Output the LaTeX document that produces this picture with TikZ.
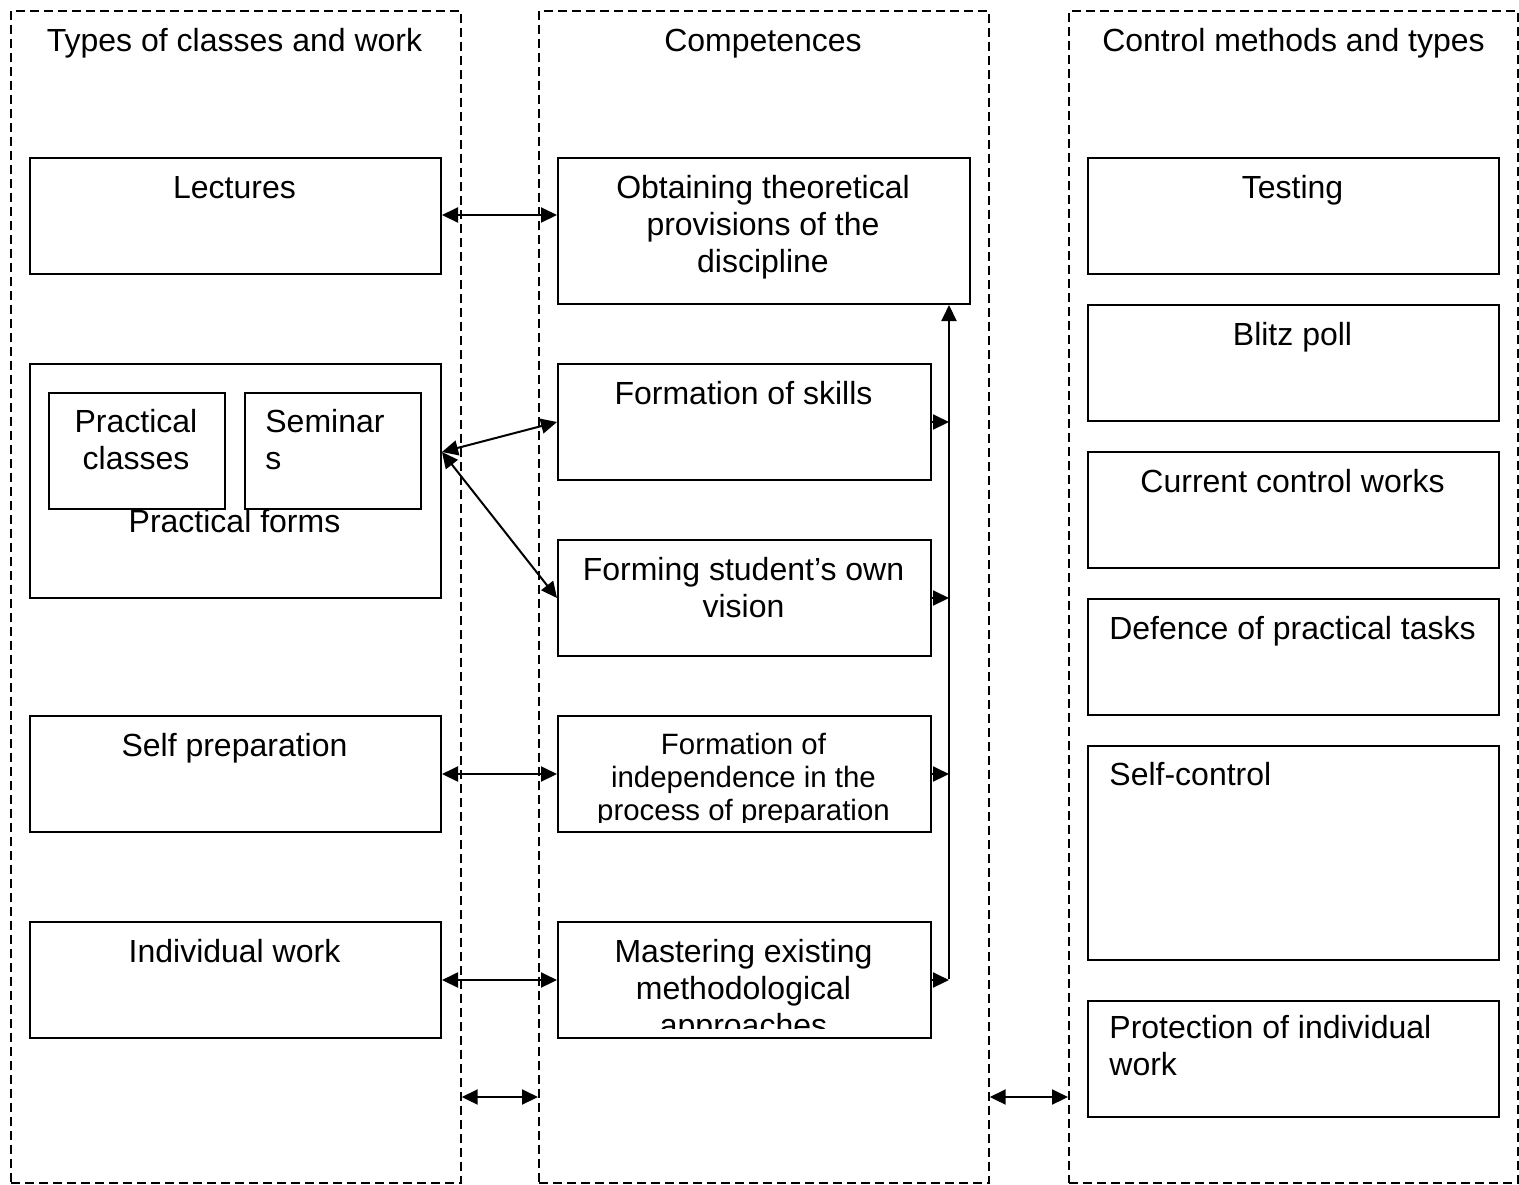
\documentclass[tikz,border=0pt]{standalone}
\usepackage{fontspec}
\setmainfont{Liberation Sans}
\usepackage{tikz}
\usetikzlibrary{arrows.meta, positioning, calc}

\tikzset{
  column/.style={draw, line width=0.85pt, dash pattern=on 4.5pt off 2.5pt, anchor=north west, inner sep=0pt},
  box/.style={draw, line width=1pt, anchor=north west, inner sep=0pt},
  sz/.style 2 args={minimum width=#1*0.5pt, minimum height=#2*0.5pt},
  txt/.style={anchor=base, inner sep=0pt, align=center, font=\fontsize{16}{18.5}\selectfont},
  ltxt/.style={txt, anchor=base west, align=left},
  stxt/.style={txt, font=\fontsize{14.7}{16.5}\selectfont},
  link/.style={line width=1pt, {Triangle[length=8pt, width=7.5pt]}-{Triangle[length=8pt, width=7.5pt]}},
  feed/.style={line width=1pt, -{Triangle[length=8pt, width=7.5pt]}},
}

\begin{document}
\begin{tikzpicture}[x=0.5pt, y=-0.5pt]
  \useasboundingbox (0,0) rectangle (1519,1184);

  % Three dashed columns
  \node[column, sz={450}{1172}] (colA) at (10,10) {};
  \node[column, sz={450}{1172}] (colB) at (538,10) {};
  \node[column, sz={449}{1172}] (colC) at (1068,10) {};
  \node[txt] (headA) at (234.5,51) {Types of classes and work};
  \node[txt] (headB) at (763,51) {Competences};
  \node[txt] (headC) at (1293.5,51) {Control methods and types};

  % Types of classes and work (base = last line)
  \node[box, sz={411}{116}] (lect) at (29,157) {};
  \node[txt] (lectt) at (234.5,198) {Lectures};
  \node[box, sz={411}{234}] (pract) at (29,363) {};
  \node[box, sz={176}{116}] (pcls) at (48,392) {};
  \node[box, sz={176}{116}] (sem) at (244,392) {};
  \node[txt] (pclst) at (136,469) {Practical\\classes};
  \node[ltxt] (semt) at (265,469) {Seminar\\s};
  \node[txt] (practt) at (234.5,532) {Practical forms};
  \node[box, sz={411}{116}] (selfp) at (29,715) {};
  \node[txt] (selfpt) at (234.5,756) {Self preparation};
  \node[box, sz={411}{116}] (indiv) at (29,921) {};
  \node[txt] (indivt) at (234.5,962) {Individual work};

  % Competences
  \node[box, sz={412}{146}] (theor) at (557,157) {};
  \node[txt] (theort) at (763,272) {Obtaining theoretical\\provisions of the\\discipline};
  \node[box, sz={373}{116}] (skills) at (557,363) {};
  \node[txt] (skillst) at (743.5,404) {Formation of skills};
  \node[box, sz={373}{116}] (vision) at (557,539) {};
  \node[txt] (visiont) at (743.5,617) {Forming student’s own\\vision};
  \node[box, sz={373}{116}] (indep) at (557,715) {};
  \begin{scope}
    \clip (indep.north west) rectangle ($(indep.south east)+(0,-11)$);
    \node[stxt] (indept) at (743.5,820) {Formation of\\independence in the\\process of preparation};
  \end{scope}
  \node[box, sz={373}{116}] (master) at (557,921) {};
  \begin{scope}
    \clip (master.north west) rectangle ($(master.south east)+(0,-11)$);
    \node[txt] (mastert) at (743.5,1036) {Mastering existing\\methodological\\approaches};
  \end{scope}

  % Control methods and types
  \node[box, sz={411}{116}] (test) at (1087,157) {};
  \node[txt] (testt) at (1292.5,198) {Testing};
  \node[box, sz={411}{116}] (blitz) at (1087,304) {};
  \node[txt] (blitzt) at (1292.5,345) {Blitz poll};
  \node[box, sz={411}{116}] (curr) at (1087,451) {};
  \node[txt] (currt) at (1292.5,492) {Current control works};
  \node[box, sz={411}{116}] (defn) at (1087,598) {};
  \node[txt] (defnt) at (1292.5,639) {Defence of practical tasks};
  \node[box, sz={411}{214}] (selfc) at (1087,745) {};
  \node[ltxt] (selfct) at (1109,785) {Self-control};
  \node[box, sz={411}{116}] (prot) at (1087,1000) {};
  \node[ltxt] (prott) at (1109,1075) {Protection of individual\\work};

  % Links between columns
  \coordinate (pj) at (pract.east |- 0,452);
  \draw[link] (lect.east |- 0,215) -- (theor.west |- 0,215);
  \draw[link] (pj) -- (skills.west);
  \draw[link] (pj) -- (vision.west);
  \draw[link] (selfp.east) -- (indep.west);
  \draw[link] (indiv.east) -- (master.west);
  \draw[link] (colA.east |- 0,1097) -- (colB.west |- 0,1097);
  \draw[link] (colB.east |- 0,1097) -- (colC.west |- 0,1097);

  % Feedback bus
  \coordinate (bus) at (949,979);
  \draw[feed] (bus) -- (bus |- theor.south);
  \foreach \b in {skills, vision, indep, master}
    \draw[feed] (\b.east) -- (\b.east -| bus);
\end{tikzpicture}
\end{document}
